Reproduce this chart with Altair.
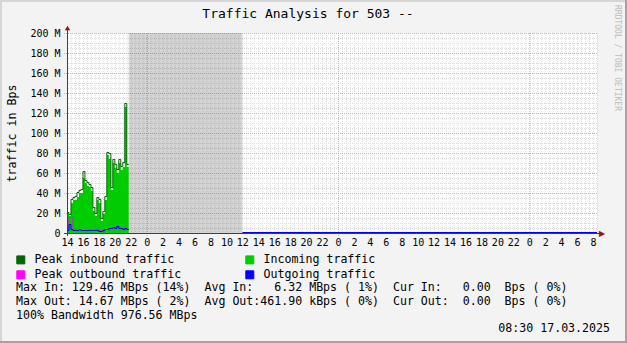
import altair as alt
import pandas as pd

FONT = "DejaVu Sans Mono"

# ---- data (hours since 14:00 on 14.03.2025; one sample per 15 minutes) ----
sample_hours = [i * 0.25 for i in range(31)]
sample_step = 0.25
peak_in = [20, 18, 33, 35, 36, 40, 42, 43, 61, 52, 50, 48, 45, 25, 19, 35,
           33, 14, 21, 36, 80, 79, 45, 73, 68, 63, 73, 66, 70, 129, 68]
avg_in = [19, 17, 30, 33, 33, 36, 40, 40, 55, 50, 47, 46, 42, 22, 17, 33,
          30, 12, 19, 33, 78, 74, 43, 70, 65, 60, 70, 63, 66, 126, 66]
peak_out = [3, 15, 15, 3, 2, 2, 3, 2, 2, 2, 2, 3, 2, 2, 3, 3,
            2, 1, 2, 3, 3, 4, 4, 5, 4, 6, 5, 4, 4, 4, 3]
avg_out = [2, 8, 3, 2, 2, 2, 3, 2, 2, 2, 2, 2, 2, 2, 2, 2,
           1, 1, 2, 3, 3, 4, 4, 5, 4, 6, 4, 4, 3, 4, 3]
unknown_span = [7.75, 22.0]          # gray "unknown" band
zero_span = [22.0, 66.5]             # data present but zero
zero_value = [0]
x_end = 66.5
start_hour = 14
tick_hours = list(range(0, 67, 2))
minor_x = [i * 0.5 for i in range(134)]
major_x = [10, 34, 58]
y_ticks = list(range(0, 201, 20))
minor_y = list(range(0, 201, 5))

series_names = ["Peak inbound traffic", "Peak outbound traffic",
                "Incoming traffic", "Outgoing traffic"]
series_colors = ["#006600", "#FF00FF", "#00CC00", "#0000FF"]

title_text = "Traffic Analysis for 503 --"
y_title = "traffic in Bps"
stats_lines = [
    "Max In: 129.46 MBps (14%)  Avg In:   6.32 MBps ( 1%)  Cur In:   0.00  Bps ( 0%)",
    "Max Out: 14.67 MBps ( 2%)  Avg Out:461.90 kBps ( 0%)  Cur Out:  0.00  Bps ( 0%)",
    "100% Bandwidth 976.56 MBps",
]
stamp = "08:30 17.03.2025"
watermark = "RRDTOOL / TOBI OETIKER"

# ---- build tables ----
rows = []
for name, vals in zip(["Peak inbound traffic", "Incoming traffic",
                       "Peak outbound traffic", "Outgoing traffic"],
                      [peak_in, avg_in, peak_out, avg_out]):
    for t, v in zip(sample_hours, vals):
        rows.append({"h": t, "v": v, "s": name})
    rows.append({"h": sample_hours[-1] + sample_step, "v": vals[-1], "s": name})
df = pd.DataFrame(rows)

xs = alt.Scale(domain=[0, x_end], nice=False, zero=False)
ys = alt.Scale(domain=[0, 200], nice=False)
cs = alt.Scale(domain=series_names, range=series_colors)

x_axis = alt.Axis(values=tick_hours, labelExpr=f"({start_hour} + datum.value) % 24",
                  labelFont=FONT, labelFontSize=10, labelColor="black", ticks=False,
                  domain=False, grid=False, labelPadding=4, title=None, labelFlush=False,
                  labelOverlap=False)
y_axis = alt.Axis(values=y_ticks, labelExpr="datum.value == 0 ? '0' : datum.value + ' M'",
                  labelFont=FONT, labelFontSize=10, labelColor="black", ticks=False,
                  domain=False, grid=False, labelPadding=7, title=y_title,
                  titleFont=FONT, titleFontSize=11.6, titleFontWeight="normal",
                  titleColor="black", titlePadding=12, labelOverlap=False,
                  labelFlush=False)

X = lambda f: alt.X(f, scale=xs, axis=x_axis)
Y = lambda f: alt.Y(f, scale=ys, axis=y_axis)

g_minor_x = alt.Chart(pd.DataFrame({"h": minor_x})).mark_rule(
    color="#DCDCDC", strokeDash=[1, 1], strokeWidth=1, xOffset=0.5
).encode(x=X("h:Q"))
g_minor_y = alt.Chart(pd.DataFrame({"v": minor_y})).mark_rule(
    color="#DCDCDC", strokeDash=[1, 1], strokeWidth=1, yOffset=0.5
).encode(y=Y("v:Q"))
g_major_x = alt.Chart(pd.DataFrame({"h": major_x})).mark_rule(
    color="#E0AAAA", strokeDash=[1, 1], strokeWidth=1, xOffset=0.5
).encode(x=X("h:Q"), y=alt.value(0), y2=alt.value(203))
g_major_y = alt.Chart(pd.DataFrame({"v": y_ticks})).mark_rule(
    color="#E0AAAA", strokeDash=[1, 1], strokeWidth=1, yOffset=0.5
).encode(y=Y("v:Q"), x=alt.value(-3), x2=alt.value(530))

unknown = alt.Chart(pd.DataFrame({"a": [unknown_span[0]], "b": [unknown_span[1]]})).mark_rect(
    color="black", opacity=0.17
).encode(x=X("a:Q"), x2="b:Q", y=Y("lo:Q"), y2="hi:Q"
         ).transform_calculate(lo="0", hi="200")

legend = alt.Legend(orient="none", legendX=-52, legendY=221, columns=2, title=None,
                    symbolType="square", symbolSize=64, symbolStrokeColor="black",
                    symbolStrokeWidth=1, symbolOpacity=1, labelFont=FONT,
                    labelFontSize=11.6, labelColor="black", labelOffset=8,
                    columnPadding=61, rowPadding=2, padding=0, labelLimit=400)

base = alt.Chart(df)
area_in = base.transform_filter(alt.datum.s == "Incoming traffic").mark_area(
    interpolate="step-after", opacity=1
).encode(x=X("h:Q"), y=Y("v:Q"),
         color=alt.Color("s:N", scale=cs, legend=legend))


def line_of(name):
    return base.transform_filter(alt.datum.s == name).mark_line(
        interpolate="step-after", strokeWidth=1, yOffset=-0.5
    ).encode(x=X("h:Q"), y=Y("v:Q"),
             color=alt.Color("s:N", scale=cs, legend=legend))


l_peak_in = line_of("Peak inbound traffic")
l_peak_out = line_of("Peak outbound traffic")
l_out = line_of("Outgoing traffic")

zero_line = alt.Chart(pd.DataFrame({"a": [zero_span[0]], "b": [zero_span[1]],
                                    "v": zero_value})).mark_rule(
    color="#0000FF", strokeWidth=1, yOffset=-0.5
).encode(x=X("a:Q"), x2="b:Q", y=Y("v:Q"))

one = pd.DataFrame({"k": [0]})
axis_y_line = alt.Chart(pd.DataFrame({"k": [1]})).mark_rule(
    color="#404040", strokeWidth=1).encode(
    x=alt.value(0.5), y=alt.value(-4), y2=alt.value(203))
axis_x_line = alt.Chart(pd.DataFrame({"k": [2]})).mark_rule(
    color="#404040", strokeWidth=1).encode(
    x=alt.value(-3), x2=alt.value(533), y=alt.value(200.5))
arrow_y = alt.Chart(pd.DataFrame({"k": [3]})).mark_point(
    shape="triangle-up", filled=True, color="#A01010", size=30, opacity=1).encode(
    x=alt.value(0.5), y=alt.value(-5))
arrow_x = alt.Chart(pd.DataFrame({"k": [4]})).mark_text(
    text="\u25B6", font="DejaVu Sans", fontSize=8, color="#A01010",
    align="center", baseline="middle").encode(
    x=alt.value(535), y=alt.value(200.5))

nb = lambda s: s.replace(" ", "\u00a0")
texts = [alt.Chart(pd.DataFrame({"t": [title_text]})).mark_text(
    align="center", baseline="middle", font=FONT, fontSize=13, color="black"
).encode(x=alt.value(241), y=alt.value(-19), text="t:N")]
for i, line in enumerate(stats_lines):
    texts.append(alt.Chart(pd.DataFrame({"t": [nb(line)]})).mark_text(
        align="left", baseline="middle", font=FONT, fontSize=11.6, color="black"
    ).encode(x=alt.value(-51), y=alt.value(254.5 + 14 * i), text="t:N"))
texts.append(alt.Chart(pd.DataFrame({"t": [stamp]})).mark_text(
    align="right", baseline="middle", font=FONT, fontSize=11.6, color="black"
).encode(x=alt.value(543), y=alt.value(296), text="t:N"))
texts.append(alt.Chart(pd.DataFrame({"t": [watermark]})).mark_text(
    align="left", baseline="middle", font=FONT, fontSize=8, color="#BBBBBB", angle=90
).encode(x=alt.value(550), y=alt.value(-28), text="t:N"))

# bevel frame of the canvas
frame = [
    alt.Chart(one).mark_rule(color="#D6D6D6", strokeWidth=2).encode(
        x=alt.value(-67), x2=alt.value(560), y=alt.value(-32)),
    alt.Chart(one).mark_rule(color="#D6D6D6", strokeWidth=2).encode(
        x=alt.value(-66), y=alt.value(-33), y2=alt.value(310)),
    alt.Chart(one).mark_rule(color="#A3A3A3", strokeWidth=2).encode(
        x=alt.value(559), y=alt.value(-33), y2=alt.value(310)),
    alt.Chart(one).mark_rule(color="#A3A3A3", strokeWidth=2).encode(
        x=alt.value(-67), x2=alt.value(560), y=alt.value(309)),
]

chart = alt.layer(
    g_minor_x, g_minor_y, g_major_x, g_major_y, unknown,
    area_in, l_peak_in, l_peak_out, l_out, zero_line,
    *texts, *frame, axis_y_line, axis_x_line, arrow_y, arrow_x
).properties(
    width=530, height=200,
    padding={"left": 67, "top": 33, "right": 30, "bottom": 110},
    autosize=alt.AutoSizeParams(type="none"),
).configure(background="#F3F3F3").configure_view(fill="white", stroke=None)

chart.save("out.html", embed_options={"renderer": "svg", "actions": False})
